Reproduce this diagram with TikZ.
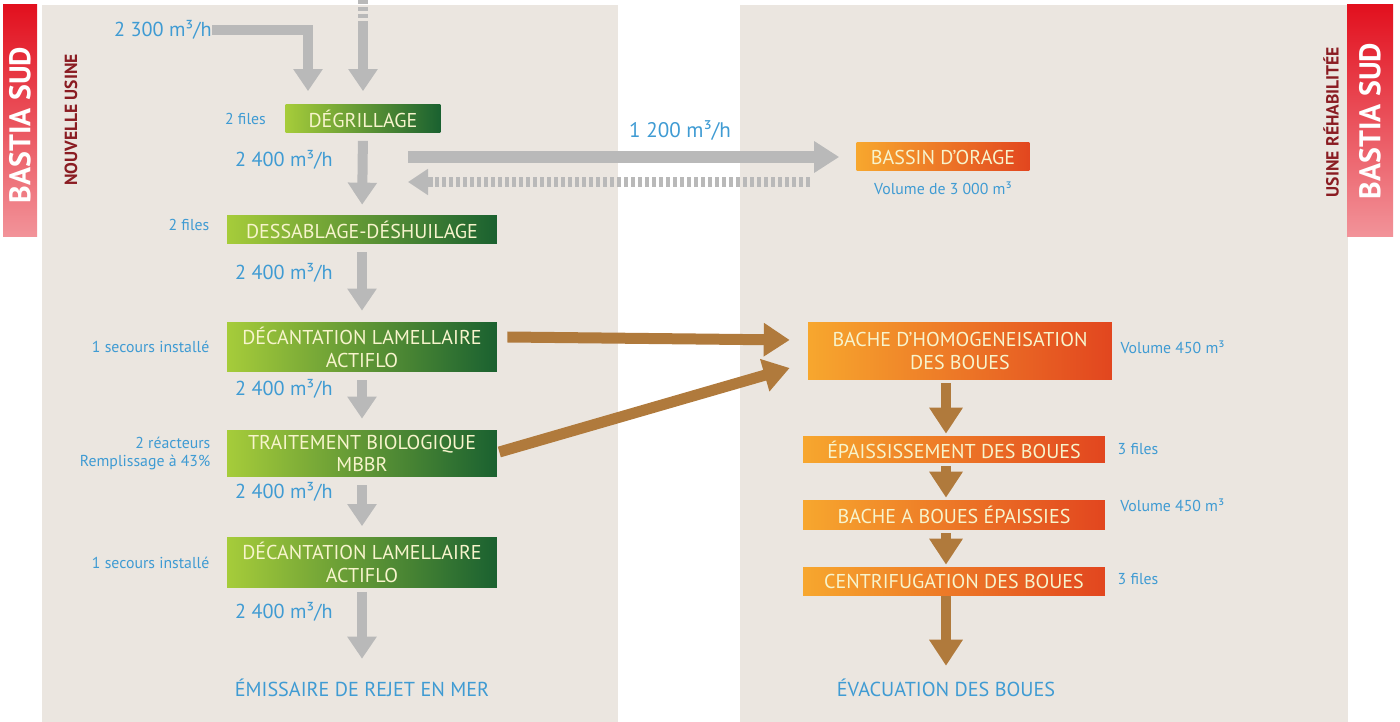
\documentclass[tikz,border=0pt]{standalone}
\usepackage{fontspec}
\setmainfont{PT Sans}
\usetikzlibrary{arrows.meta, positioning}

\definecolor{panel}{HTML}{EBE6E0}
\definecolor{flowgray}{HTML}{B9B9B9}
\definecolor{sludgebrown}{HTML}{B07A3C}
\definecolor{labelblue}{HTML}{3F9BD3}
\definecolor{greenlight}{HTML}{A6CC3A}
\definecolor{greendark}{HTML}{1A6130}
\definecolor{orangelight}{HTML}{F7A72E}
\definecolor{orangedark}{HTML}{E2461F}
\definecolor{tabred}{HTML}{E2101E}
\definecolor{boxtext}{HTML}{F7F4CC}
\definecolor{usinered}{HTML}{8A1C22}

\begin{document}
\begin{tikzpicture}[x=0.02cm, y=-0.02cm,
    every node/.style={inner sep=0pt},
    stage/.style={minimum height=5.6mm, align=center, text=boxtext,
        font=\fontsize{11.4}{13}\selectfont},
    treat/.style={stage, minimum width=54mm, left color=greenlight, right color=greendark},
    sludge/.style={stage, minimum width=60.4mm, left color=orangelight, right color=orangedark},
    rate/.style={text=labelblue, font=\fontsize{11.5}{13}\selectfont},
    sidenote/.style={text=labelblue, font=\fontsize{9}{10.5}\selectfont, align=right},
    flow/.style={color=flowgray, line width=2mm, -{Triangle[width=5.6mm, length=4.4mm]}},
    flowdash/.style={color=flowgray, line width=2mm, dash pattern=on 0.8mm off 0.6mm},
    mudflow/.style={color=sludgebrown, line width=2.2mm, -{Triangle[width=6.4mm, length=5.2mm]}},
    sitetab/.style={rotate=90, text=white, font=\bfseries\fontsize{17}{17}\selectfont},
    plantname/.style={rotate=90, text=usinered, font=\bfseries\fontsize{10}{10}\selectfont}]

\useasboundingbox (0,0) rectangle (1400,722);

% Panels and site tabs
\fill[panel] (42,5) rectangle (618,722);
\fill[panel] (740,5) rectangle (1348,722);
\shade[top color=tabred, bottom color=tabred!45!white] (3,5) rectangle (37,237);
\shade[top color=tabred, bottom color=tabred!45!white] (1347,5) rectangle (1393,237);
\node[sitetab] (site-left) at (20,125) {BASTIA SUD};
\node[sitetab] (site-right) at (1370,121) {BASTIA SUD};
\node[plantname] (plant-new) at (71,120) {NOUVELLE USINE};
\node[plantname] (plant-old) at (1331,122) {USINE RÉHABILITÉE};

% Water line (left column)
\node[treat, minimum width=31mm] (degr) at (363,118.5) {DÉGRILLAGE};
\node[treat] (dess) at (362,230) {DESSABLAGE-DÉSHUILAGE};
\node[treat, minimum height=10mm] (dec1) at (362,347) {DÉCANTATION LAMELLAIRE\\ACTIFLO};
\node[treat, minimum height=9.4mm] (bio) at (362,453.5) {TRAITEMENT BIOLOGIQUE\\MBBR};
\node[treat, minimum height=10mm] (dec2) at (362,562.5) {DÉCANTATION LAMELLAIRE\\ACTIFLO};
\node[rate] (sea) at (362,688) {ÉMISSAIRE DE REJET EN MER};

% Notes left of the treatment steps
\node[sidenote, left=3.8mm of degr] (degr-note) {2 files};
\node[sidenote, left=3.4mm of dess, yshift=1mm] (dess-note) {2 files};
\node[sidenote, left=3.4mm of dec1] (dec1-note) {1 secours installé};
\node[sidenote, left=3.2mm of bio] (bio-note) {2 réacteurs\\Remplissage à 43\%};
\node[sidenote, left=3.4mm of dec2] (dec2-note) {1 secours installé};

% Inflows
\node[rate, anchor=east] (raw) at (212,30) {2 300 m³/h};
\coordinate (inlet) at (363,0);
\coordinate (inlet-solid) at (363,22);
\draw[flow] (raw.east) -| ([xshift=-11mm, yshift=2.6mm]degr.north);
\draw[flowdash] (inlet) -- (inlet-solid);
\draw[flow] (inlet-solid) -- ([yshift=2.6mm]degr.north);

% Flow between the steps
\foreach \a/\b/\y in {degr/dess/160, dess/dec1/273, dec1/bio/389, bio/dec2/492} {
    \draw[flow, shorten <=1.6mm, shorten >=2.2mm] (\a.south) -- (\b.north);
    \node[rate, anchor=east] (rate-\a) at (333,\y) {2 400 m³/h};
}
\draw[flow, shorten <=0.8mm, shorten >=4mm] (dec2.south) -- (sea.north);
\node[rate, anchor=east] (rate-dec2) at (333,612) {2 400 m³/h};

% Storm basin
\node[sludge, minimum width=34.6mm] (storm) at (943,157) {BASSIN D'ORAGE};
\node[sidenote, below=2mm of storm] (storm-vol) {Volume de 3 000 m³};
\coordinate (split) at (408,157);
\coordinate (return) at (408,182);
\coordinate (return-start) at (810,182);
\draw[flow, line width=2.4mm, -{Triangle[width=6mm, length=5mm]}, shorten >=3.4mm] (split) -- (storm.west);
\node[rate, font=\fontsize{12}{13}\selectfont] (overflow-rate) at (680,131) {1 200 m³/h};
\draw[flowdash] (return-start) -- ([xshift=4mm]return);
\draw[flow, -{Triangle[width=5mm, length=4mm]}] ([xshift=5mm]return) -- (return);

% Sludge line (right column)
\node[sludge, minimum width=60.8mm, minimum height=11.6mm] (homog) at (960,351) {BACHE D'HOMOGENEISATION\\DES BOUES};
\node[sludge, minimum height=5.4mm] (thick) at (954,449.5) {ÉPAISSISSEMENT DES BOUES};
\node[sludge, minimum height=6mm] (store) at (954,515) {BACHE A BOUES ÉPAISSIES};
\node[sludge, minimum height=5.8mm] (centri) at (954,581.5) {CENTRIFUGATION DES BOUES};
\node[rate] (evac) at (946,688) {ÉVACUATION DES BOUES};

\node[sidenote, right=1.6mm of homog, yshift=0.8mm] (homog-vol) {Volume 450 m³};
\node[sidenote, right=2.4mm of thick] (thick-note) {3 files};
\node[sidenote, anchor=west] (store-vol) at (1120,505) {Volume 450 m³};
\node[sidenote, right=2.4mm of centri, yshift=0.4mm] (centri-note) {3 files};

% Sludge from the settlers and the reactor
\draw[mudflow] ([shift={(2mm,2mm)}]dec1.east) -- ([shift={(-3.6mm,2.2mm)}]homog.west);
\draw[mudflow] ([shift={(0.4mm,0.3mm)}]bio.east) -- ([shift={(-3.6mm,-3.4mm)}]homog.west);

% Sludge treatment chain
\foreach \a/\b in {homog/thick, thick/store, store/centri} {
    \draw[mudflow, line width=2mm, shorten <=0.6mm, shorten >=0.4mm] (\a.south -| evac) -- (\b.north -| evac);
}
\draw[mudflow, line width=2mm, shorten >=2.6mm] (centri.south -| evac) -- (evac.north);
\end{tikzpicture}
\end{document}
